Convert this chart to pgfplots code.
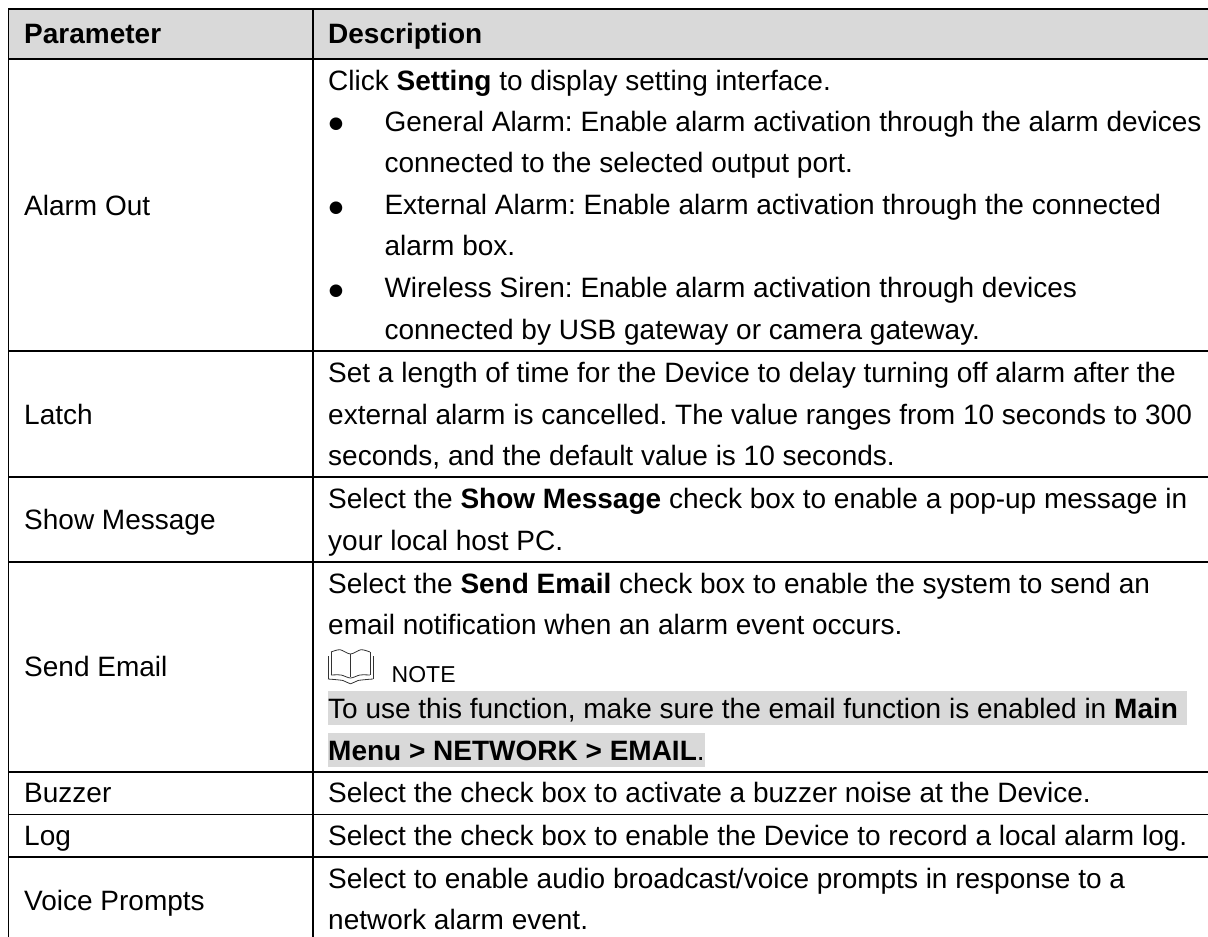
\documentclass[border=0pt]{standalone}
\usepackage{pgfplots}
\pgfplotsset{compat=1.18}
\usepackage{fontspec}
\setmainfont{Liberation Sans}
\newfontfamily\symfont{DejaVu Sans}
\definecolor{hdr}{HTML}{D9D9D9}
\newcommand{\T}[3]{\node[anchor=base west,inner sep=0pt,text=black,font=\fontsize{28}{28}\selectfont\frenchspacing] at (axis cs:#1,#2) {#3};}
\newcommand{\B}[2]{\node[anchor=center,inner sep=0pt,text=black] at (axis cs:#1,#2) {\fontsize{16.5}{16.5}\selectfont\symfont ●};}
\begin{document}
\begin{tikzpicture}
\begin{axis}[
  hide axis, scale only axis, width=1208pt, height=937pt,
  xmin=0, xmax=1208, ymin=0, ymax=937, y dir=reverse, no markers,
]
% page extent
\addplot[fill=white,draw=none] coordinates {(0,0) (1208,0) (1208,937) (0,937)} -- cycle;
% fills
\addplot[fill=hdr,draw=none] coordinates {(8,9) (1208,9) (1208,59) (8,59)} -- cycle;
\addplot[fill=hdr,draw=none] coordinates {(328,691) (1187,691) (1187,725) (328,725)} -- cycle;
\addplot[fill=hdr,draw=none] coordinates {(328,733.3) (705,733.3) (705,766.7) (328,766.7)} -- cycle;
% rules
\addplot[black,line width=1.7pt] coordinates {(8.5,9) (1208,9)};
\addplot[black,line width=1.7pt] coordinates {(8.5,59) (1208,59)};
\addplot[black,line width=1.7pt] coordinates {(8.5,351) (1208,351)};
\addplot[black,line width=1.7pt] coordinates {(8.5,477) (1208,477)};
\addplot[black,line width=1.7pt] coordinates {(8.5,561.7) (1208,561.7)};
\addplot[black,line width=1.7pt] coordinates {(8.5,772) (1208,772)};
\addplot[black,line width=1.7pt] coordinates {(8.5,814.5) (1208,814.5)};
\addplot[black,line width=1.7pt] coordinates {(8.5,857) (1208,857)};
\addplot[black,line width=1.7pt] coordinates {(8.5,8) (8.5,937)};
\addplot[black,line width=1.7pt] coordinates {(312.7,9) (312.7,937)};
% book icon
\addplot[black!80,line width=0.8pt] coordinates {(328,656) (328,679)};
\addplot[black!80,line width=0.8pt] coordinates {(373,656) (373,679)};
\addplot[black!80,line width=0.8pt] coordinates {(331,652) (331,675)};
\addplot[black!80,line width=0.8pt] coordinates {(370,652) (370,675)};
\addplot[black!80,line width=0.8pt] coordinates {(350.5,654) (350.5,677)};
\addplot[black!80,line width=0.8pt,smooth] coordinates {(331,652) (340,649.7) (350.5,654) (361,649.7) (370,652)};
\addplot[black!80,line width=0.8pt,smooth] coordinates {(331,675) (341,675) (350.5,678) (360,675) (370,675)};
\addplot[black!80,line width=0.8pt,smooth] coordinates {(328,679) (343,680.5) (350.5,683.8) (358,680.5) (373,679)};
% header
\T{24}{43.5}{\textbf{Parameter}}
\T{328}{43.5}{\textbf{Description}}
% left column
\T{24}{215}{Alarm Out}
\T{24}{424}{Latch}
\T{24}{529}{Show Message}
\T{24}{676.7}{Send Email}
\T{24}{802.7}{Buzzer}
\T{24}{845}{Log}
\T{24}{910}{Voice Prompts}
% right column
\T{328}{90}{Click \textbf{Setting} to display setting interface.}
\B{336}{124.7}
\T{384.3}{131.7}{General Alarm: Enable alarm activation through the alarm devices}
\T{384.3}{172.7}{connected to the selected output port.}
\B{336}{208}
\T{384.3}{214}{External Alarm: Enable alarm activation through the connected}
\T{384.3}{255.7}{alarm box.}
\B{336}{291}
\T{384.3}{297}{Wireless Siren: Enable alarm activation through devices}
\T{384.3}{339}{connected by USB gateway or camera gateway.}
\T{328}{382.7}{Set a length of time for the Device to delay turning off alarm after the}
\T{328}{424}{external alarm is cancelled. The value ranges from 10 seconds to 300}
\T{328}{465.7}{seconds, and the default value is 10 seconds.}
\T{328}{508.3}{Select the \textbf{Show Message} check box to enable a pop-up message in}
\T{328}{550}{your local host PC.}
\T{328}{593}{Select the \textbf{Send Email} check box to enable the system to send an}
\T{328}{634.3}{email notification when an alarm event occurs.}
\T{391.5}{682.3}{\fontsize{23}{23}\selectfont NOTE}
\T{328}{718.3}{To use this function, make sure the email function is enabled in \textbf{Main}}
\T{328}{760}{\textbf{Menu > NETWORK > EMAIL}.}
\T{328}{802.3}{Select the check box to activate a buzzer noise at the Device.}
\T{328}{845}{Select the check box to enable the Device to record a local alarm log.}
\T{328}{888.3}{Select to enable audio broadcast/voice prompts in response to a}
\T{328}{929}{network alarm event.}
\end{axis}
\end{tikzpicture}
\end{document}
